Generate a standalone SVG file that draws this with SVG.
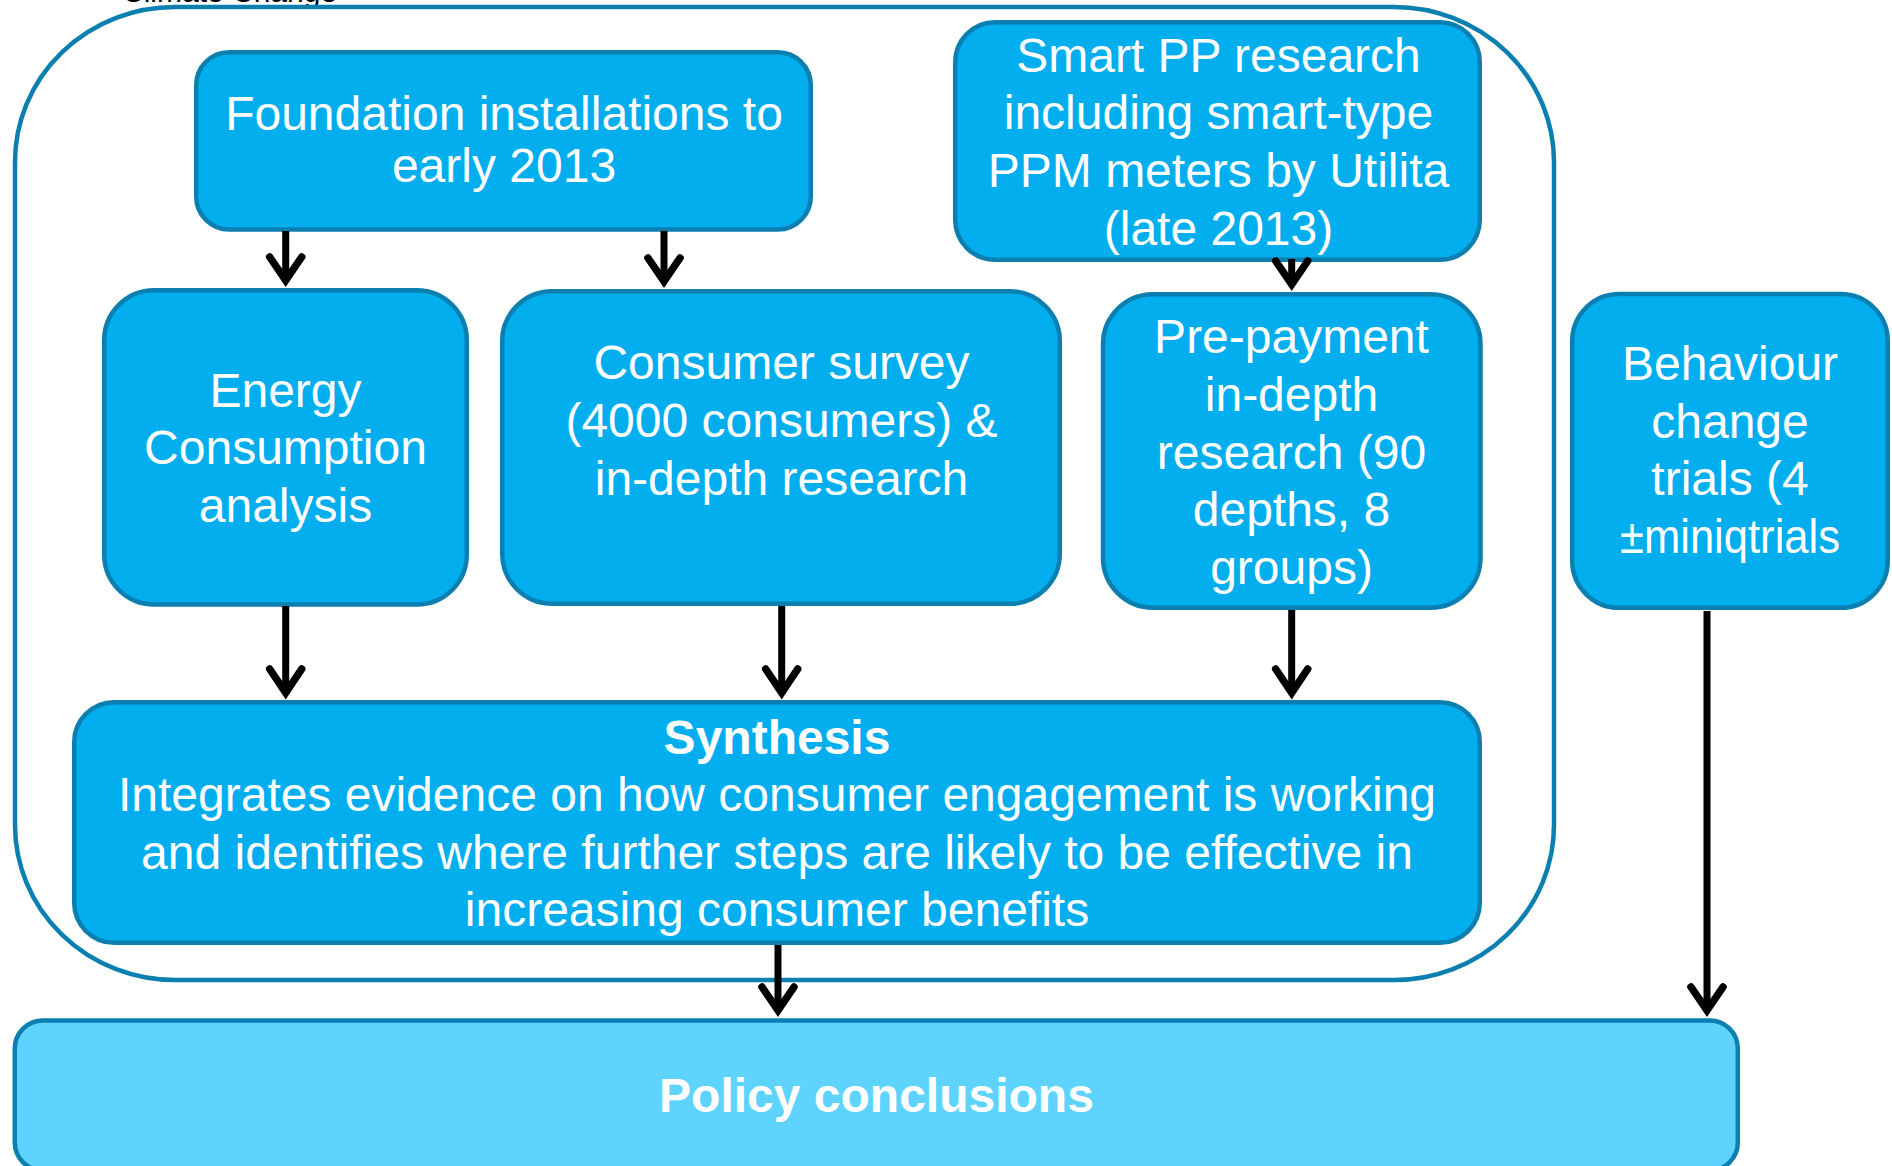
<svg xmlns="http://www.w3.org/2000/svg" width="1892" height="1166" viewBox="0 0 1892 1166">
<style>
  .box { fill: #02AEEE; stroke: #0B7FB0; stroke-width: 4.5; }
  .policy { fill: #5DD3FE; stroke: #0B7FB0; stroke-width: 4.5; }
  .outer { fill: none; stroke: #0B7FB0; stroke-width: 4.5; }
  .t { font-family: "Liberation Sans", Arial, sans-serif; font-size: 48px; fill: #FFFFFF; text-anchor: middle; }
  .b { font-weight: bold; }
  .shaft { fill: none; stroke: #000000; stroke-width: 7; }
  .head { fill: none; stroke: #000000; stroke-width: 7.5; stroke-linecap: round; stroke-linejoin: miter; }
  .top { font-family: "Liberation Sans", Arial, sans-serif; font-size: 30px; fill: #000000; }
</style>
<rect width="1892" height="1166" fill="#FFFFFF"/>
<text class="top" x="122" y="2">Climate Change</text>
<g id="container">
  <rect class="outer" x="15" y="7" width="1539" height="973" rx="160" ry="155"/>
</g>
<g id="foundation">
  <rect class="box" x="196.2" y="52.2" width="614.6" height="177.3" rx="33"/>
  <text class="t" x="504" y="130">Foundation installations to</text>
  <text class="t" x="504" y="181.7">early 2013</text>
</g>
<g id="smartpp">
  <rect class="box" x="955.2" y="22.2" width="524.6" height="237.6" rx="40"/>
  <text class="t" x="1218.5" y="71.7">Smart PP research</text>
  <text class="t" x="1218.5" y="129.3">including smart-type</text>
  <text class="t" x="1218.5" y="186.9">PPM meters by Utilita</text>
  <text class="t" x="1218.5" y="244.5">(late 2013)</text>
</g>
<g id="energy">
  <rect class="box" x="104.2" y="290.2" width="362.6" height="314.3" rx="50"/>
  <text class="t" x="285.5" y="406.7">Energy</text>
  <text class="t" x="285.5" y="464.3">Consumption</text>
  <text class="t" x="285.5" y="521.9">analysis</text>
</g>
<g id="consumer">
  <rect class="box" x="502.2" y="291.2" width="557.6" height="312.6" rx="50"/>
  <text class="t" x="781.5" y="379.3">Consumer survey</text>
  <text class="t" x="781.5" y="436.9">(4000 consumers) &amp;</text>
  <text class="t" x="781.5" y="494.5">in-depth research</text>
</g>
<g id="prepayment">
  <rect class="box" x="1103" y="294.2" width="377.5" height="313.6" rx="50"/>
  <text class="t" x="1291.5" y="353.3">Pre-payment</text>
  <text class="t" x="1291.5" y="410.9">in-depth</text>
  <text class="t" x="1291.5" y="468.5">research (90</text>
  <text class="t" x="1291.5" y="526.1">depths, 8</text>
  <text class="t" x="1291.5" y="583.7">groups)</text>
</g>
<g id="behaviour">
  <rect class="box" x="1572.2" y="294" width="315.6" height="313.8" rx="47"/>
  <text class="t" x="1730" y="380">Behaviour</text>
  <text class="t" x="1730" y="437.6">change</text>
  <text class="t" x="1730" y="495.2">trials (4</text>
  <text class="t" x="1730" y="552.8" textLength="220" lengthAdjust="spacingAndGlyphs">±miniqtrials</text>
</g>
<g id="synthesis">
  <rect class="box" x="74.2" y="702.2" width="1405.6" height="240.6" rx="40"/>
  <text class="t b" x="777" y="753.5">Synthesis</text>
  <text class="t" x="777" y="811.1">Integrates evidence on how consumer engagement is working</text>
  <text class="t" x="777" y="868.7">and identifies where further steps are likely to be effective in</text>
  <text class="t" x="777" y="926.3">increasing consumer benefits</text>
</g>
<g id="policy">
  <rect class="policy" x="14.8" y="1020.5" width="1723" height="150" rx="28"/>
  <text class="t b" x="876.5" y="1111.5">Policy conclusions</text>
</g>
<g id="connectors">
  <path class="shaft" d="M285.7,231 V278"/>
  <path class="head" d="M269.7,257 L285.7,280.3 L301.7,257"/>
  <path class="shaft" d="M664,231 V279"/>
  <path class="head" d="M648,258 L664,281.3 L680,258"/>
  <path class="shaft" d="M1291.7,259 V282"/>
  <path class="head" d="M1275.7,261 L1291.7,284.3 L1307.7,261"/>
  <path class="shaft" d="M285.7,606 V690"/>
  <path class="head" d="M269.7,669 L285.7,692.8 L301.7,669"/>
  <path class="shaft" d="M781.7,606 V690"/>
  <path class="head" d="M765.7,669 L781.7,692.8 L797.7,669"/>
  <path class="shaft" d="M1291.7,610 V690"/>
  <path class="head" d="M1275.7,669 L1291.7,692.8 L1307.7,669"/>
  <path class="shaft" d="M778,945 V1008"/>
  <path class="head" d="M762,987 L778,1010.3 L794,987"/>
  <path class="shaft" d="M1707,611 V1008"/>
  <path class="head" d="M1691,987 L1707,1010.3 L1723,987"/>
</g>
</svg>
